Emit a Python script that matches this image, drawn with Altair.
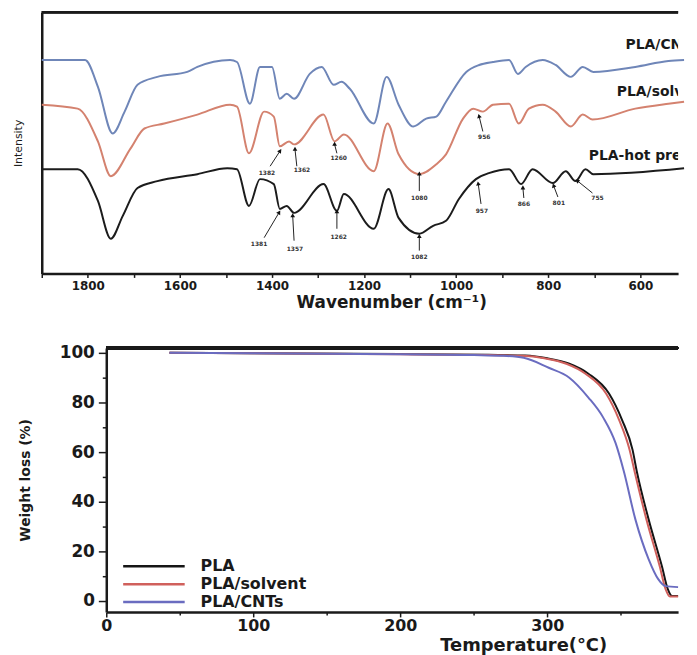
import altair as alt
import pandas as pd

# ---------------- FTIR spectra (top panel) ----------------
cnt_w = [1900, 1806, 1778, 1746, 1720, 1692, 1649, 1584, 1562, 1491, 1476, 1448, 1426, 1400, 1383, 1368, 1352,
         1318, 1292, 1266, 1249, 1231, 1179, 1151, 1125, 1093, 1065, 1043, 1022, 978, 950, 920, 885, 866, 849,
         812, 784, 751, 725, 702, 611, 539, 505]
cnt_i = [215, 215, 188, 141, 163, 190, 198, 203, 208, 215, 213, 171, 208, 208, 176, 181, 176,
         201, 208, 190, 193, 186, 151, 198, 170, 148, 156, 158, 173, 203, 210, 213, 215, 201, 208,
         215, 210, 198, 208, 203, 208, 214, 215]

sol_w = [1900, 1822, 1778, 1750, 1707, 1677, 1634, 1562, 1491, 1476, 1450, 1417, 1396, 1383, 1363, 1352,
         1288, 1264, 1244, 1179, 1149, 1125, 1080, 1043, 1022, 985, 963, 942, 920, 885, 864, 842,
         812, 784, 751, 725, 704, 611, 539, 505]
sol_i = [170, 166, 133, 98, 126, 146, 151, 160, 170, 168, 121, 163, 158, 128, 133, 130,
         160, 133, 140, 103, 151, 120, 100, 110, 120, 156, 166, 163, 170, 171, 151, 166,
         170, 163, 148, 160, 155, 166, 171, 173]

hot_w = [1900, 1822, 1778, 1750, 1724, 1692, 1649, 1562, 1497, 1476, 1450, 1426, 1396, 1383, 1368, 1352,
         1288, 1259, 1244, 1179, 1147, 1125, 1080, 1050, 1022, 994, 957, 929, 885, 859, 834, 790,
         762, 741, 719, 702, 505]
hot_i = [105, 105, 73, 35, 58, 86, 93, 100, 106, 105, 68, 95, 90, 65, 68, 61,
         90, 63, 80, 45, 85, 56, 40, 48, 53, 75, 95, 101, 105, 90, 105, 91,
         103, 93, 105, 100, 106]

spectra_names = ["PLA/CNTs", "PLA/solvent", "PLA-hot press"]
spectra_colors = ["#6f86b8", "#d4826f", "#1c1c1c"]

# curve labels
curve_label_text = ["PLA/CNTs", "PLA/solvent", "PLA-hot press"]
curve_label_w = [632, 651, 712]
curve_label_i = [230, 183, 118]

# peak annotations (arrow tip, arrow tail, label)
peak_label = ["1382", "1362", "1260", "1080", "956",
              "1381", "1357", "1262", "1082", "957", "866", "801", "755"]
peak_tip_w = [1383, 1350, 1264, 1080, 950, 1385, 1355, 1259, 1080, 952, 855, 788, 736]
peak_tip_i = [123, 125, 130, 100, 158, 61, 58, 62, 37, 90, 86, 88, 93]
peak_tail_w = [1404, 1346, 1259, 1080, 942, 1417, 1352, 1259, 1080, 946, 853, 779, 704]
peak_tail_i = [108, 108, 121, 83, 143, 36, 33, 45, 23, 70, 76, 77, 81]
peak_text_w = [1411, 1335, 1255, 1080, 939, 1428, 1350, 1255, 1080, 944, 853, 777, 693]
peak_text_i = [101, 104, 116, 76, 137, 30, 25, 37, 17, 63, 70, 71, 76]
peak_arrow_angle = [34, 0, 0, 0, 345, 31, 0, 0, 0, 351, 0, 340, 309]

# ---------------- TGA curves (bottom panel) ----------------
pla_t = [43, 100, 200, 260, 285, 300, 315, 328, 342, 351, 358, 361, 369, 378, 382, 385, 389]
pla_w = [100, 99.8, 99.5, 99.2, 98.9, 97.8, 95.6, 91.6, 83.6, 72.8, 61, 52, 32.8, 14, 4.8, 2, 2]
sol_t = [43, 100, 200, 260, 283, 298, 313, 326, 340, 349, 356, 359.5, 367.5, 376.5, 380.5, 383.5, 389]
sol_wt = [100, 99.8, 99.4, 99.1, 98.8, 97.8, 95.6, 91.6, 83.6, 72.8, 61, 52, 32.8, 14, 4.8, 1.8, 1.8]
cnt_t = [43, 100, 200, 250, 270, 284, 301, 315, 328, 338, 346.5, 352, 360, 369, 375.5, 380.5, 389]
cnt_wt = [100, 99.8, 99.4, 99.1, 98.8, 98, 94, 90, 82, 74, 63.6, 52.5, 32.8, 16.8, 8.8, 6, 5.6]

tga_names = ["PLA", "PLA/solvent", "PLA/CNTs"]
tga_colors = ["#151515", "#d0605c", "#6a6cc0"]

# ---------------- tables ----------------
ftir = pd.concat([
    pd.DataFrame({"wavenumber": cnt_w, "intensity": cnt_i, "spectrum": "PLA/CNTs"}),
    pd.DataFrame({"wavenumber": sol_w, "intensity": sol_i, "spectrum": "PLA/solvent"}),
    pd.DataFrame({"wavenumber": hot_w, "intensity": hot_i, "spectrum": "PLA-hot press"}),
])
labels_df = pd.DataFrame({"text": curve_label_text, "wavenumber": curve_label_w, "intensity": curve_label_i})
peaks = pd.DataFrame({
    "label": peak_label, "tip_w": peak_tip_w, "tip_i": peak_tip_i,
    "tail_w": peak_tail_w, "tail_i": peak_tail_i,
    "text_w": peak_text_w, "text_i": peak_text_i, "angle": peak_arrow_angle,
})
tga = pd.concat([
    pd.DataFrame({"T": pla_t, "W": pla_w, "sample": "PLA"}),
    pd.DataFrame({"T": sol_t, "W": sol_wt, "sample": "PLA/solvent"}),
    pd.DataFrame({"T": cnt_t, "W": cnt_wt, "sample": "PLA/CNTs"}),
])

FONT = "DejaVu Sans"
TOP_W, TOP_H = 641, 263
BOT_W, BOT_H = 641, 266
BOT_X0 = 65  # where the TGA axis starts inside the lower panel

xs_top = alt.Scale(domain=[518, 1900], reverse=True, nice=False, zero=False)
ys_top = alt.Scale(domain=[0, 263], nice=False, zero=False)

top_x_axis = alt.Axis(
    values=list(range(600, 1901, 100)), format="d",
    labelExpr="datum.value % 200 === 0 ? datum.label : ''",
    labelFontSize=12, labelFont=FONT, labelFontWeight="bold", labelPadding=3,
    tickSize=4, tickWidth=1.5, domainWidth=2.5, labelFlush=False,
    title="Wavenumber (cm⁻¹)", titleFontSize=17, titleFont=FONT, titleFontWeight="bold",
    titlePadding=3, titleX=352, titleAnchor="middle",
)
top_y_axis = alt.Axis(labels=False, ticks=False, domainWidth=2.5, title="Intensity",
                      titleFontSize=11, titleFont=FONT, titleFontWeight="normal", titlePadding=18)

lines_top = alt.Chart(ftir).mark_line(strokeWidth=2, interpolate="monotone").encode(
    x=alt.X("wavenumber:Q", scale=xs_top, axis=top_x_axis),
    y=alt.Y("intensity:Q", scale=ys_top, axis=top_y_axis),
    color=alt.Color("spectrum:N", scale=alt.Scale(domain=spectra_names, range=spectra_colors), legend=None),
    detail="spectrum:N",
)
frame_top = alt.Chart(labels_df).mark_rule(color="#1a1a1a", strokeWidth=2.5).encode(
    x=alt.value(0), x2=alt.value(TOP_W), y=alt.value(0)
)
curve_text = alt.Chart(labels_df).mark_text(
    align="left", baseline="middle", font=FONT, fontWeight="bold", fontSize=14, color="#1a1a1a", clip=True
).encode(x=alt.X("wavenumber:Q", scale=xs_top), y=alt.Y("intensity:Q", scale=ys_top), text="text:N")

arrow_lines = alt.Chart(peaks).mark_rule(color="#222", strokeWidth=1).encode(
    x=alt.X("tip_w:Q", scale=xs_top), y=alt.Y("tip_i:Q", scale=ys_top),
    x2="tail_w:Q", y2="tail_i:Q",
)
arrow_heads = alt.Chart(peaks).mark_point(shape="triangle", filled=True, size=22, color="#111", opacity=1).encode(
    x=alt.X("tip_w:Q", scale=xs_top), y=alt.Y("tip_i:Q", scale=ys_top),
    angle=alt.Angle("angle:Q", scale=None),
)
peak_text = alt.Chart(peaks).mark_text(font=FONT, fontSize=6, fontWeight="bold", color="#333").encode(
    x=alt.X("text_w:Q", scale=xs_top), y=alt.Y("text_i:Q", scale=ys_top), text="label:N"
)

top = alt.layer(lines_top, frame_top, arrow_lines, arrow_heads, peak_text, curve_text).properties(
    width=TOP_W, height=TOP_H
)

# ---------------- bottom panel ----------------
xs_bot = alt.Scale(domain=[0, 389], range=[BOT_X0, BOT_W], nice=False, zero=False)
ys_bot = alt.Scale(domain=[-4.4, 102], nice=False, zero=False)

bot_x_axis = alt.Axis(
    values=list(range(0, 351, 50)), format="d",
    labelExpr="datum.value % 100 === 0 ? datum.label : ''",
    labelFontSize=16, labelFont=FONT, labelFontWeight="bold", labelPadding=1, labelFlush=False,
    tickSize=alt.condition("datum.value % 100 === 0", alt.value(5), alt.value(3)),
    tickWidth=1.5, domainWidth=2.5,
    title="Temperature(°C)", titleFontSize=18, titleFont=FONT, titleFontWeight="bold",
    titlePadding=3, titleX=485, titleAnchor="middle",
)
bot_y_axis = alt.Axis(
    values=list(range(0, 101, 10)), format="d", offset=-BOT_X0,
    labelExpr="datum.value % 20 === 0 ? datum.label : ''",
    labelFontSize=17, labelFont=FONT, labelFontWeight="bold", labelPadding=4,
    tickSize=alt.condition("datum.value % 20 === 0", alt.value(8), alt.value(4)),
    tickWidth=1.5, domainWidth=2.5,
    title="Weight loss (%)", titleFontSize=14, titleFont=FONT, titleFontWeight="bold", titlePadding=27,
)

lines_bot = alt.Chart(tga).mark_line(strokeWidth=2, interpolate="monotone").encode(
    x=alt.X("T:Q", scale=xs_bot, axis=bot_x_axis),
    y=alt.Y("W:Q", scale=ys_bot, axis=bot_y_axis),
    color=alt.Color(
        "sample:N", sort=tga_names,
        scale=alt.Scale(domain=tga_names, range=tga_colors),
        legend=alt.Legend(
            title=None, orient="none", legendX=BOT_X0 + 39, legendY=211, padding=0,
            symbolType="M-4,0H4", symbolSize=240, symbolStrokeWidth=2.5,
            labelFont=FONT, labelFontSize=16, labelFontWeight="bold", labelColor="#1a1a1a",
            labelOffset=38, rowPadding=1,
        ),
    ),
    detail="sample:N",
)
frame_bot = alt.Chart(tga).mark_rule(color="#1a1a1a", strokeWidth=2.5).encode(
    x=alt.value(BOT_X0), x2=alt.value(BOT_W), y=alt.value(0)
)
bottom = alt.layer(lines_bot, frame_bot).properties(width=BOT_W, height=BOT_H)

chart = alt.vconcat(top, bottom, spacing=34).resolve_scale(color="independent").resolve_legend(
    color="independent"
).properties(
    padding={"left": 5, "top": 0, "right": 0, "bottom": 0}
).configure_view(stroke=None).configure_axis(
    grid=False, domainColor="#1a1a1a", tickColor="#1a1a1a", labelColor="#1a1a1a", titleColor="#1a1a1a"
)

chart.save("out.html", embed_options={"renderer": "svg", "actions": False})
